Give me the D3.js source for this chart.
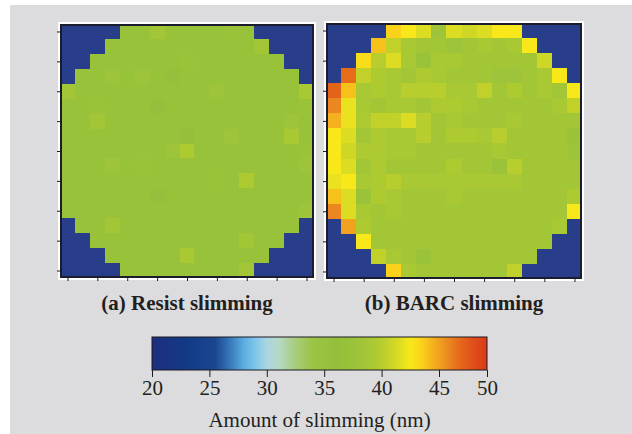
<!DOCTYPE html>
<html>
<head>
<meta charset="utf-8">
<script src="https://cdn.jsdelivr.net/npm/d3@7"></script>
<style>
  body { margin: 0; background: #fff; }
  svg { display: block; }
  .panel-title { font-family: "Liberation Serif", "Times New Roman", serif; font-weight: bold; font-size: 21px; fill: #231f20; }
  .cbar-label { font-family: "Liberation Serif", "Times New Roman", serif; font-size: 21px; fill: #231f20; }
  .cbar-axis text { font-family: "Liberation Serif", "Times New Roman", serif; font-size: 21px; fill: #231f20; }
  .cbar-axis line, .wafer-axis line { stroke: #1b1b22; }
  .cell { shape-rendering: crispEdges; }
</style>
</head>
<body>
<div id="chart"></div>
<script>
// null = outside the wafer
const n = null;

// (a) resist slimming, nm, 17 x 17 sites
const resistSlimming = [
  [n, n, n, n, 37, 37, 38.5, 37, 37, 37, 37, 37.5, 37, n, n, n, n],
  [n, n, n, 37, 37, 37, 37, 37, 37, 37, 37, 37, 37, 38.5, n, n, n],
  [n, n, 37, 37, 37, 37, 37, 37, 37.5, 37, 37, 37, 37, 37, 37, n, n],
  [n, 37, 37, 38, 37, 38, 37, 36.5, 37, 37, 37, 37, 37, 37, 37, 37, n],
  [38.5, 37, 37, 37, 37, 37, 37, 37, 37, 37, 38, 37, 37, 37, 37, 37, 39],
  [37, 37, 37.5, 37, 37, 37, 36.5, 37, 37, 37, 37, 37, 37, 37, 37, 37, 37.5],
  [37, 37, 38.5, 37, 37, 37, 37, 37, 37, 37, 37, 37, 37, 37, 37, 38, 37],
  [37, 37, 37, 37, 37, 37, 37, 37, 36.5, 37, 37, 38, 37, 37, 37, 39, 37],
  [37, 37, 37, 37, 37, 37, 37, 38, 39.5, 37, 37, 37, 37, 37, 37, 37, 37.5],
  [37, 37, 37, 38, 37, 37.5, 37, 37, 37, 37, 37, 37, 37, 37, 37, 37, 38],
  [37, 37, 37, 37, 37, 37, 37, 37, 37, 37, 37.5, 37, 39.5, 37, 37, 37, 37],
  [37, 37, 37, 37, 37, 37, 36.5, 37, 37, 37, 37, 37, 37, 37, 37, 37, 37],
  [37, 37, 37, 37, 37, 37, 37, 37, 37, 37, 37, 37, 37, 37, 37, 37, 38],
  [n, 37, 37, 38.5, 37, 37, 37, 37, 37, 37, 37, 37, 37, 37, 37, 37, n],
  [n, n, 37, 37, 37, 37, 37, 37, 37, 37, 37, 37, 38.5, 37, 37, n, n],
  [n, n, n, 37, 37, 37, 37, 37, 39, 37, 37, 37, 37, 37, n, n, n],
  [n, n, n, n, 37, 37, 37, 37, 37, 37, 37, 37, 38.5, n, n, n, n]
];

// (b) BARC slimming, nm
const barcSlimming = [
  [n, n, n, n, 43.5, 42.5, 41.5, 38, 41.5, 41, 41.5, 42.5, 42.5, n, n, n, n],
  [n, n, n, 44, 40.5, 39, 38.5, 38.5, 38, 38.5, 39, 38.5, 39, 42.5, n, n, n],
  [n, n, 43, 40, 41.5, 39, 37.5, 39, 39, 38.5, 38.5, 38.5, 38.5, 38.5, 41, n, n],
  [n, 47, 40.5, 39.5, 39, 38.5, 39.5, 39, 38.5, 38.5, 38.5, 38, 38, 38.5, 39, 42.5, n],
  [47.5, 44, 39, 39.5, 39, 40, 40, 40, 39, 39, 40.5, 38.5, 39.5, 38.5, 39, 38.5, 42.5],
  [46, 42, 39, 38.5, 39, 39, 38.5, 39.5, 39.5, 39, 38.5, 38.5, 38.5, 38.5, 38.5, 39, 40.5],
  [44.5, 42, 39.5, 40.5, 40.5, 41.5, 40, 38.5, 39, 38.5, 38.5, 38.5, 39, 38.5, 38.5, 38.5, 38.5],
  [42.5, 41.5, 38.5, 39.5, 39, 39, 40, 38.5, 39.5, 39.5, 39, 40, 38.5, 38.5, 38.5, 38.5, 37.5],
  [42.5, 41, 39.5, 39.5, 39, 39, 38.5, 38.5, 38.5, 38.5, 38.5, 39, 38.5, 38.5, 38.5, 38.5, 38],
  [42.5, 41.5, 38.5, 39.5, 38.5, 38.5, 38.5, 38.5, 39.5, 38.5, 38.5, 37.5, 40, 38.5, 38.5, 38.5, 38.5],
  [42, 42.5, 39, 39.5, 40, 39, 39, 39, 39, 39, 39, 39, 39, 38.5, 38.5, 38.5, 38.5],
  [44, 41.5, 37.5, 39.5, 39, 38.5, 38.5, 38.5, 39, 38.5, 38.5, 38.5, 38.5, 38.5, 38.5, 38.5, 39.5],
  [46, 41.5, 39, 38.5, 39, 38.5, 38.5, 38.5, 38.5, 38.5, 38.5, 38.5, 38.5, 38.5, 38.5, 38.5, 42.5],
  [n, 45, 39.5, 38.5, 38.5, 38.5, 38.5, 38.5, 38.5, 38.5, 38.5, 38.5, 38.5, 38.5, 38.5, 39, n],
  [n, n, 42.5, 38.5, 38.5, 38.5, 38.5, 38.5, 38.5, 38.5, 38.5, 38.5, 38.5, 38.5, 38.5, n, n],
  [n, n, n, 40.5, 39, 38.5, 37.5, 38.5, 38.5, 38.5, 38.5, 38.5, 38.5, 38.5, n, n, n],
  [n, n, n, n, 43.5, 39, 38.5, 38.5, 38.5, 38.5, 38.5, 38.5, 40.5, n, n, n, n]
];

const panelTitles = ['(a) Resist slimming', '(b) BARC slimming'];

// colour scale
const colorbarTicks = [20, 25, 30, 35, 40, 45, 50];
const colorbarLabel = 'Amount of slimming (nm)';
const colorStopValues = [20, 23, 25.5, 26.5, 28, 29, 30, 31, 32.5, 34, 36, 38, 39.5, 40.5, 41.5, 42.5, 43.5, 44.5, 45.5, 47, 48.5, 50];
const colorStopColors = ['#1e2e7e', '#123a86', '#1a4690', '#2f6cb0', '#5aaee0', '#80c6ea', '#aad6e0', '#b6d8c8',
  '#a8cc7c', '#9cc444', '#94bf3b', '#9dc43a', '#aeca31', '#c2d12a', '#dcdc22', '#f8e81a', '#fad21a',
  '#f4b01e', '#ee9420', '#e66c1a', '#e0501a', '#da3a1a'];

const colorScale = d3.scaleLinear()
    .domain(colorStopValues)
    .range(colorStopColors)
    .interpolate(d3.interpolateRgb)
    .clamp(true);

const width = 632, height = 434;

const svg = d3.select('#chart').append('svg')
    .attr('width', width)
    .attr('height', height);

// grey card behind everything
svg.append('rect')
    .attr('x', 10).attr('y', 5)
    .attr('width', width - 10).attr('height', height - 5)
    .attr('fill', '#dcdcde');

class WaferMap {

  constructor(_config, _data) {
    this.config = {
      parent: _config.parent,
      x: _config.x,
      y: _config.y,
      size: _config.size,
      title: _config.title,
      titleY: _config.titleY,
      emptyColor: '#283e8b'
    };
    this.data = _data;
    this.initVis();
  }

  initVis() {
    let vis = this;
    const rows = vis.data.length;
    const cols = vis.data[0].length;

    vis.xScale = d3.scaleLinear().domain([0, cols]).range([0, vis.config.size]);
    vis.yScale = d3.scaleLinear().domain([0, rows]).range([0, vis.config.size]);

    vis.chart = vis.config.parent.append('g')
        .attr('transform', `translate(${vis.config.x},${vis.config.y})`);

    vis.cells = [];
    vis.data.forEach((row, r) => row.forEach((v, c) => vis.cells.push({ row: r, col: c, value: v })));

    vis.renderVis();
  }

  renderVis() {
    let vis = this;

    // snap cell edges to whole pixels so neighbours meet without seams
    const px = v => Math.round(v);

    vis.chart.selectAll('.cell')
        .data(vis.cells)
      .join('rect')
        .attr('class', 'cell')
        .attr('x', d => px(vis.xScale(d.col)))
        .attr('y', d => px(vis.yScale(d.row)))
        .attr('width', d => px(vis.xScale(d.col + 1)) - px(vis.xScale(d.col)))
        .attr('height', d => px(vis.yScale(d.row + 1)) - px(vis.yScale(d.row)))
        .attr('fill', d => d.value == null ? vis.config.emptyColor : colorScale(d.value));

    // white outline, then dark frame
    vis.chart.append('rect')
        .attr('x', -1).attr('y', -1)
        .attr('width', vis.config.size + 2).attr('height', vis.config.size + 2)
        .attr('fill', 'none').attr('stroke', '#fff').attr('stroke-width', 2);
    vis.chart.append('rect')
        .attr('x', 1).attr('y', 1)
        .attr('width', vis.config.size - 2).attr('height', vis.config.size - 2)
        .attr('fill', 'none').attr('stroke', '#1b1d2c').attr('stroke-width', 2);

    // tick marks every second site, no labels
    const rowTicks = d3.range(0.5, vis.data.length, 2);
    const colTicks = d3.range(0.5, vis.data[0].length, 2);

    vis.chart.append('g')
        .attr('class', 'wafer-axis')
        .call(d3.axisLeft(vis.yScale).tickValues(rowTicks).tickSize(3).tickSizeOuter(0).tickFormat(''))
        .call(g => g.select('.domain').remove());

    vis.chart.append('g')
        .attr('class', 'wafer-axis')
        .attr('transform', `translate(0,${vis.config.size})`)
        .call(d3.axisBottom(vis.xScale).tickValues(colTicks).tickSize(3).tickSizeOuter(0).tickFormat(''))
        .call(g => g.select('.domain').remove());

    vis.chart.append('text')
        .attr('class', 'panel-title')
        .attr('x', vis.config.size / 2)
        .attr('y', vis.config.titleY - vis.config.y)
        .attr('text-anchor', 'middle')
        .text(vis.config.title);
  }
}

new WaferMap({ parent: svg, x: 60, y: 24, size: 254, title: panelTitles[0], titleY: 310 }, resistSlimming);
new WaferMap({ parent: svg, x: 326, y: 23, size: 256, title: panelTitles[1], titleY: 310 }, barcSlimming);

// colour bar; the 45-50 stretch is drawn shorter, as in the original
const barX0 = 152, barX1 = 487, barY = 337, barH = 33;
const barScale = d3.scaleLinear()
    .domain([20, 45, 50])
    .range([barX0, 439, barX1]);

const grad = svg.append('defs').append('linearGradient')
    .attr('id', 'cbar-grad')
    .attr('x1', '0%').attr('x2', '100%')
    .attr('y1', '0%').attr('y2', '0%');

grad.selectAll('stop')
    .data(colorStopValues)
  .join('stop')
    .attr('offset', d => (barScale(d) - barX0) / (barX1 - barX0))
    .attr('stop-color', d => colorScale(d));

svg.append('rect')
    .attr('x', barX0).attr('y', barY)
    .attr('width', barX1 - barX0).attr('height', barH)
    .attr('fill', 'url(#cbar-grad)')
    .attr('stroke', '#1b1b22').attr('stroke-width', 1);

svg.append('g')
    .attr('class', 'cbar-axis')
    .attr('transform', `translate(0,${barY + barH})`)
    .call(d3.axisBottom(barScale).tickValues(colorbarTicks).tickSize(7).tickSizeOuter(0).tickPadding(3))
    .call(g => g.select('.domain').remove());

svg.append('text')
    .attr('class', 'cbar-label')
    .attr('x', (barX0 + barX1) / 2)
    .attr('y', 427)
    .attr('text-anchor', 'middle')
    .text(colorbarLabel);
</script>
</body>
</html>
